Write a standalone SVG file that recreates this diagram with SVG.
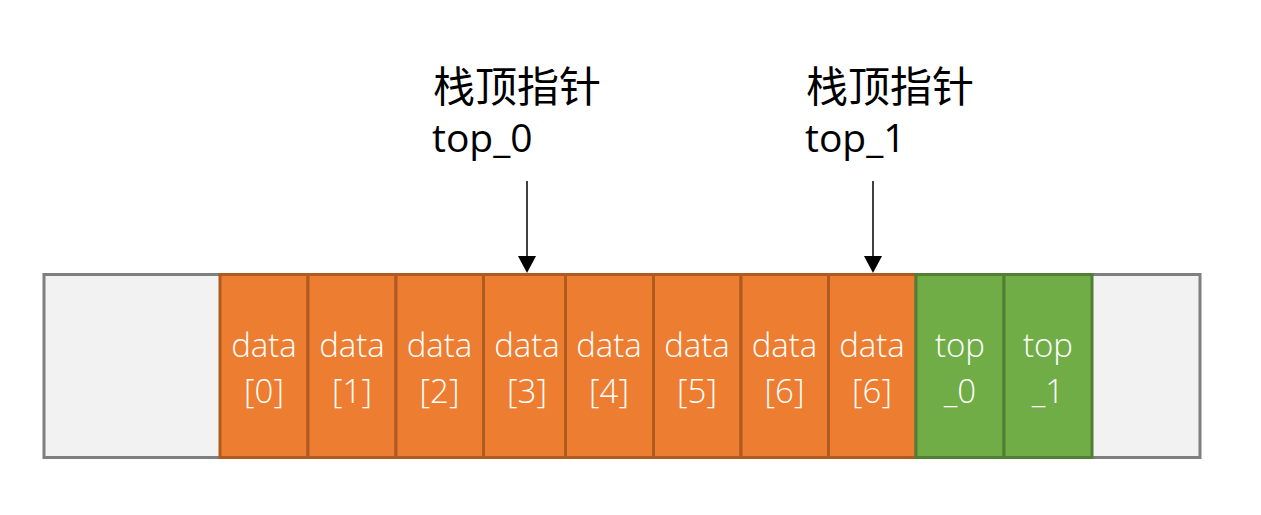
<svg xmlns="http://www.w3.org/2000/svg" width="1261" height="515" viewBox="0 0 1261 515">
<style>
.bg{fill:#F2F2F2;stroke:#7F7F7F;stroke-width:3}
.or{fill:#ED7D31;stroke:#AE5A21;stroke-width:3}
.gr{fill:#70AD47;stroke:#507E32;stroke-width:3}
.ct{font-family:"Open Sans","Noto Sans CJK SC",sans-serif;font-weight:300;font-size:33px;fill:#FFFFFF;text-anchor:middle}
.lb{font-family:"Noto Sans CJK SC",sans-serif;font-size:42px;fill:#000000}
.lt{font-family:"Open Sans","Noto Sans CJK SC",sans-serif;font-size:39px;fill:#000000}
.ar{stroke:#000000;stroke-width:1.5;fill:none}
</style>
<g id="array">
<rect class="bg" x="44" y="274.5" width="1156" height="183"/>
</g>
<g id="cell-data0"><rect class="or" x="220" y="274.5" width="88" height="183"/><text class="ct" x="264" y="357">data</text><text class="ct" x="264" y="403">[0]</text></g>
<g id="cell-data1"><rect class="or" x="308" y="274.5" width="88" height="183"/><text class="ct" x="352" y="357">data</text><text class="ct" x="352" y="403">[1]</text></g>
<g id="cell-data2"><rect class="or" x="396" y="274.5" width="87.5" height="183"/><text class="ct" x="439.5" y="357">data</text><text class="ct" x="439.5" y="403">[2]</text></g>
<g id="cell-data3"><rect class="or" x="483.5" y="274.5" width="82" height="183"/><text class="ct" x="527" y="357">data</text><text class="ct" x="527" y="403">[3]</text></g>
<g id="cell-data4"><rect class="or" x="565.5" y="274.5" width="88" height="183"/><text class="ct" x="609" y="357">data</text><text class="ct" x="609" y="403">[4]</text></g>
<g id="cell-data5"><rect class="or" x="653.5" y="274.5" width="87.5" height="183"/><text class="ct" x="697" y="357">data</text><text class="ct" x="697" y="403">[5]</text></g>
<g id="cell-data6a"><rect class="or" x="741" y="274.5" width="87.5" height="183"/><text class="ct" x="784.5" y="357">data</text><text class="ct" x="784.5" y="403">[6]</text></g>
<g id="cell-data6b"><rect class="or" x="828.5" y="274.5" width="87.5" height="183"/><text class="ct" x="872" y="357">data</text><text class="ct" x="872" y="403">[6]</text></g>
<g id="cell-top0"><rect class="gr" x="916" y="274.5" width="88" height="183"/><text class="ct" x="960" y="357">top</text><text class="ct" x="960" y="403">_0</text></g>
<g id="cell-top1"><rect class="gr" x="1004" y="274.5" width="88" height="183"/><text class="ct" x="1048" y="357">top</text><text class="ct" x="1048" y="403">_1</text></g>
<g id="label-top0"><text class="lb" x="433" y="102">栈顶指针</text><text class="lt" x="432" y="152">top_0</text></g>
<g id="label-top1"><text class="lb" x="806" y="102">栈顶指针</text><text class="lt" x="805" y="152">top_1</text></g>
<g id="connectors">
<line class="ar" x1="527" y1="181" x2="527" y2="258"/>
<path d="M518 256 L536 256 L527 273 Z" fill="#000000"/>
<line class="ar" x1="873" y1="181" x2="873" y2="258"/>
<path d="M864 256 L882 256 L873 273 Z" fill="#000000"/>
</g>
</svg>
